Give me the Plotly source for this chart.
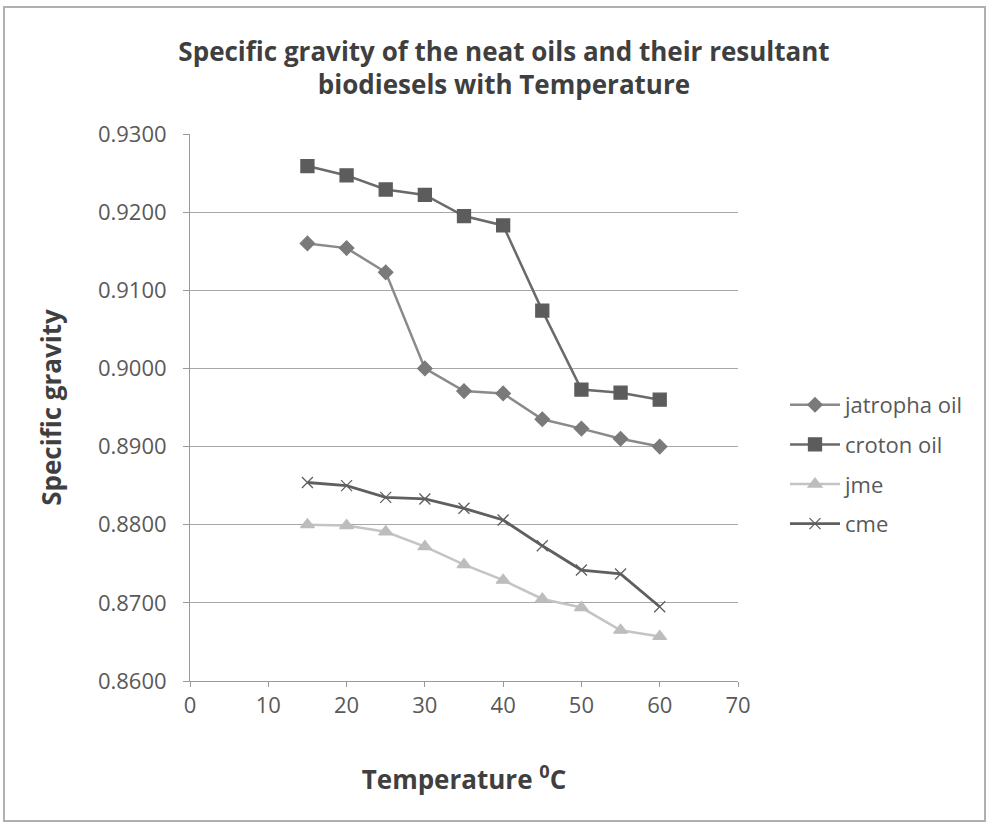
import plotly.graph_objects as go

temps = [15, 20, 25, 30, 35, 40, 45, 50, 55, 60]
jatropha_oil = [0.9160, 0.9154, 0.9123, 0.9000, 0.8971, 0.8968, 0.8935, 0.8923, 0.8910, 0.8900]
croton_oil = [0.9259, 0.9247, 0.9229, 0.9222, 0.9195, 0.9183, 0.9074, 0.8973, 0.8969, 0.8960]
jme = [0.8800, 0.8799, 0.8791, 0.8772, 0.8749, 0.8729, 0.8705, 0.8694, 0.8665, 0.8657]
cme = [0.8854, 0.8850, 0.8835, 0.8833, 0.8821, 0.8806, 0.8773, 0.8742, 0.8737, 0.8695]

y_ticks = [0.86, 0.87, 0.88, 0.89, 0.90, 0.91, 0.92, 0.93]
y_tick_labels = ["0.8600", "0.8700", "0.8800", "0.8900", "0.9000", "0.9100", "0.9200", "0.9300"]
x_ticks = [0, 10, 20, 30, 40, 50, 60, 70]

FONT = "Open Sans"

fig = go.Figure()
series = [
    ("jatropha oil", jatropha_oil, "#8a8a8a", "#7a7a7a", "diamond", 11, 2.5),
    ("croton oil", croton_oil, "#6a6a6a", "#5c5c5c", "square", 13, 2.5),
    ("jme", jme, "#c4c4c4", "#bdbdbd", "triangle-up", 12, 2.5),
    ("cme", cme, "#5f5f5f", "#5f5f5f", "x-thin-open", 11, 2.8),
]
for i, (name, vals, lc, mc, sym, ms, lw) in enumerate(series):
    fig.add_trace(go.Scatter(
        x=temps, y=vals, name=name, mode="lines+markers",
        legendgroup=f"g{i}",
        line=dict(color=lc, width=lw),
        marker=dict(symbol=sym, size=ms, color=mc,
                    line=dict(color=mc, width=1.3)),
    ))

L, R, T, B = 190, 989 - 738, 134, 825 - 681
PW, PH = 989 - L - R, 825 - T - B

def px_x(px):
    return (px - L) / PW

def px_y(py):
    return (825 - B - py) / PH

fig.update_layout(
    width=989, height=825,
    margin=dict(l=L, r=R, t=T, b=B),
    paper_bgcolor="white", plot_bgcolor="white",
    font=dict(family=FONT, color="#595959", size=22),
    title=dict(
        text="<b>Specific gravity of the neat oils and their resultant<br>biodiesels with Temperature</b>",
        x=504 / 989, xanchor="center", y=1 - 60.5 / 825, yanchor="middle",
        font=dict(family=FONT, size=26, color="#3f3f3f"),
    ),
    showlegend=True,
    legend=dict(
        x=px_x(785), y=px_y(384), xanchor="left", yanchor="top",
        font=dict(family=FONT, size=22, color="#595959"),
        tracegroupgap=8, bgcolor="rgba(0,0,0,0)",
        itemwidth=50,
    ),
    xaxis=dict(
        range=[0, 70], tickvals=x_ticks, ticktext=[str(v) for v in x_ticks],
        showgrid=False, zeroline=False, showline=True, linecolor="#9a9a9a", linewidth=1,
        ticks="outside", ticklen=5, tickcolor="#9a9a9a", ticklabelstandoff=0,
        tickfont=dict(family=FONT, size=22, color="#595959"),
        title=dict(text="<b>Temperature <sup>0</sup>C</b>", standoff=52,
                   font=dict(family=FONT, size=26, color="#3f3f3f")),
    ),
    yaxis=dict(
        range=[0.86, 0.93], tickvals=y_ticks, ticktext=y_tick_labels,
        showgrid=True, gridcolor="#a8a8a8", gridwidth=1,
        zeroline=False, showline=True, linecolor="#9a9a9a", linewidth=1,
        ticks="outside", ticklen=6, tickcolor="#9a9a9a", ticklabelstandoff=12,
        tickfont=dict(family=FONT, size=22, color="#595959"),
        title=dict(text="<b>Specific gravity</b>", standoff=28,
                   font=dict(family=FONT, size=26, color="#3f3f3f")),
    ),
    shapes=[dict(
        type="rect", xref="paper", yref="paper",
        x0=px_x(4), x1=px_x(985), y0=px_y(821), y1=px_y(7),
        line=dict(color="#b0b0b0", width=2), fillcolor="rgba(0,0,0,0)", layer="below",
    )],
)

fig.write_html("out.html")
